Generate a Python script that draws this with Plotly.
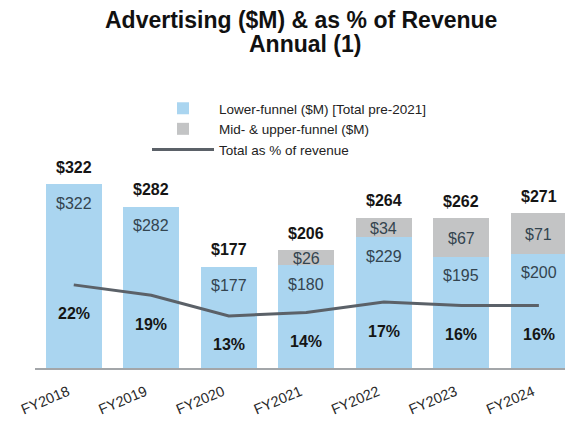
import plotly.graph_objects as go

years = ["FY2018", "FY2019", "FY2020", "FY2021", "FY2022", "FY2023", "FY2024"]
lower_funnel = [322, 282, 177, 180, 229, 195, 200]
mid_upper = [None, None, None, 26, 34, 67, 71]
totals = [322, 282, 177, 206, 264, 262, 271]
pct_revenue = [22, 19, 13, 14, 17, 16, 16]

FONT = "Liberation Sans, Arial, sans-serif"
BLUE = "#aad5f0"
GREY = "#c3c4c5"
LINE = "#5b6168"
INNER = "#33444f"
DARK = "#151515"

# plot area in page pixels: left 35, bottom 368, 538 x 208 (page has an 8px body margin)
def px_x(p):
    return (p - 35) / 538

def px_y(p):
    return (368 - p) / 208

fig = go.Figure()

fig.add_trace(go.Bar(
    x=years, y=lower_funnel, name="Lower-funnel ($M) [Total pre-2021]",
    marker=dict(color=BLUE, line=dict(width=0)),
))
fig.add_trace(go.Bar(
    x=years, y=mid_upper, name="Mid- & upper-funnel ($M)",
    marker=dict(color=GREY, line=dict(width=0)),
))
fig.add_trace(go.Scatter(
    x=years, y=pct_revenue, name="Total as % of revenue", yaxis="y2",
    mode="lines", line=dict(color=LINE, width=3),
))

annotations = []
# title, two lines
annotations.append(dict(x=px_x(301), y=px_y(20), xref="paper", yref="paper",
                        text="<b>Advertising ($M) & as % of Revenue</b>", showarrow=False,
                        xanchor="center", yanchor="middle",
                        font=dict(family=FONT, size=23, color="#111")))
annotations.append(dict(x=px_x(305), y=px_y(44), xref="paper", yref="paper",
                        text="<b>Annual (1)</b>", showarrow=False,
                        xanchor="center", yanchor="middle",
                        font=dict(family=FONT, size=23, color="#111")))

for yr, lo, mu, tot, pc in zip(years, lower_funnel, mid_upper, totals, pct_revenue):
    # total on top of bar
    annotations.append(dict(x=yr, y=tot, xref="x", yref="y", text=f"<b>${tot}</b>",
                            showarrow=False, yshift=17,
                            font=dict(family=FONT, size=16, color=DARK)))
    # lower-funnel value near the top of the blue segment
    annotations.append(dict(x=yr, y=lo, xref="x", yref="y", text=f"${lo}",
                            showarrow=False, yshift=-19,
                            font=dict(family=FONT, size=16, color=INNER)))
    if mu:
        annotations.append(dict(x=yr, y=lo + mu / 2, xref="x", yref="y", text=f"${mu}",
                                showarrow=False, yshift=-1,
                                font=dict(family=FONT, size=16, color=INNER)))
    # percent below the line
    annotations.append(dict(x=yr, y=pc, xref="x", yref="y2", text=f"<b>{pc}%</b>",
                            showarrow=False, yshift=-29,
                            font=dict(family=FONT, size=16, color=DARK)))

fig.update_layout(
    width=565, height=415,
    margin=dict(l=27, r=0, t=152, b=55, autoexpand=False),
    paper_bgcolor="white", plot_bgcolor="white",
    barmode="stack", bargap=0.28,
    font=dict(family=FONT, color="#222"),
    xaxis=dict(range=[-0.5, 6.44], showline=True, linecolor="#a3a6a9", linewidth=2,
               ticks="", tickangle=-23, showgrid=False, automargin=False,
               ticklabelstandoff=8, ticklabelshift=-6,
               tickfont=dict(family=FONT, size=14.5, color="#2a2a2a")),
    yaxis=dict(range=[0, 364], visible=False, showgrid=False, automargin=False),
    yaxis2=dict(range=[-2.1, 58.2], overlaying="y", visible=False, showgrid=False),
    legend=dict(x=px_x(147), y=px_y(93), xanchor="left", yanchor="top",
                bgcolor="rgba(0,0,0,0)", traceorder="normal", itemwidth=62,
                font=dict(family=FONT, size=13.5, color="#222"),
                tracegroupgap=0),
    annotations=annotations,
    showlegend=True,
)

fig.write_html("out.html")
